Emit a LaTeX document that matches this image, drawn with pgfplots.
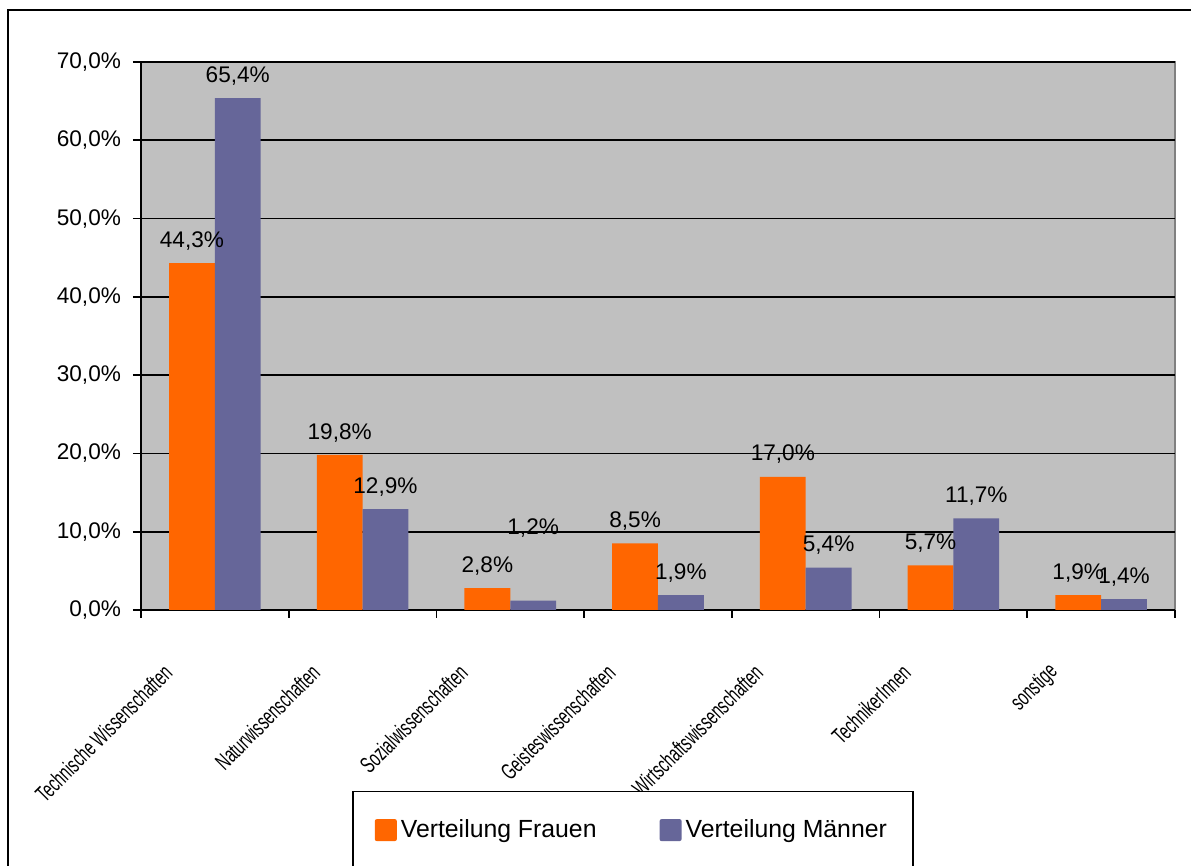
\documentclass[border=0pt]{standalone}
\usepackage{fontspec}
\setmainfont{Liberation Sans}
\usepackage{pgfplots}
\pgfplotsset{compat=1.18}
\usepackage{pgfplotstable}
\usepackage{graphicx}
\definecolor{cfrauen}{HTML}{FF6600}
\definecolor{cmaenner}{HTML}{666699}
\definecolor{plotbg}{HTML}{C0C0C0}

\pgfplotstableread{
x y dy
1 44.3 3
2 19.8 3
3 2.8 3
4 8.5 3
5 17.0 3
6 5.7 3
7 1.9 3
}\tabF
\pgfplotstableread{
x y dy
1 65.4 3
2 12.9 3
3 1.2 28
4 1.9 3
5 5.4 3
6 11.7 3
7 1.4 3
}\tabM

\newcommand{\xl}[1]{\scalebox{0.64}[1]{#1}}

\begin{document}
\begin{tikzpicture}
\path[use as bounding box] (0,0) rectangle (595.5pt,433pt);
\draw[line width=1pt] (3.8pt,-5pt) -- (3.8pt,427.8pt) -- (600pt,427.8pt);
\begin{axis}[
  at={(70.5pt,128pt)}, anchor=south west,
  scale only axis, width=517pt, height=274pt,
  ybar, bar width=0.31,
  xmin=0.5, xmax=7.5, ymin=0, ymax=70,
  axis background/.style={fill=plotbg, draw=gray, line width=0.8pt},
  axis x line*=bottom, axis y line*=left,
  axis line style={black, line width=0.8pt},
  tick align=outside,
  tick style={black, line width=0.8pt},
  major tick length=0pt, minor tick length=4pt,
  ytick={0,10,...,70},
  minor ytick={0,10,...,70},
  yticklabels={{0,0\%},{10,0\%},{20,0\%},{30,0\%},{40,0\%},{50,0\%},{60,0\%},{70,0\%}},
  yticklabel style={font=\fontsize{11.3}{13}\selectfont, xshift=-6.5pt},
  ymajorgrids, major grid style={black, line width=0.8pt},
  xtick={1,...,7},
  minor xtick={0.5,1.5,...,7.5},
  xticklabels={\xl{Technische Wissenschaften},\xl{Naturwissenschaften},\xl{Sozialwissenschaften},\xl{Geisteswissenschaften},\xl{Wirtschaftswissenschaften},\xl{TechnikerInnen},\xl{sonstige}},
  x tick label style={font=\fontsize{11.5}{13}\selectfont, xshift=-21pt, yshift=-27pt, rotate=45, anchor=east},
  /pgf/number format/assume math mode=true,
  visualization depends on={\thisrow{dy} \as \dy},
  nodes near coords={\pgfmathprintnumber[fixed,fixed zerofill,precision=1,use comma]{\pgfplotspointmeta}\%},
  nodes near coords style={font=\fontsize{11.3}{13}\selectfont, yshift=\dy pt, text=black},
  legend style={at={(axis description cs:0.2041,-0.330)}, anchor=north west,
    legend columns=2, draw=black, line width=0.8pt, fill=white,
    inner xsep=11pt, inner ysep=12pt,
    font=\fontsize{12.4}{14}\selectfont,
    nodes={inner xsep=2pt},
    /tikz/every even column/.append style={column sep=29.5pt}},
  legend cell align=left,
]
\addplot[fill=cfrauen, draw=none, bar shift=-0.155,
  legend image code/.code={\fill[cfrauen, rounded corners=1pt] (0pt,-5.5pt) rectangle (11pt,5.5pt);}]
  table[x=x, y=y] {\tabF};
\addlegendentry{Verteilung Frauen}
\addplot[fill=cmaenner, draw=none, bar shift=0.155,
  legend image code/.code={\fill[cmaenner, rounded corners=1pt] (0pt,-5.5pt) rectangle (11pt,5.5pt);}]
  table[x=x, y=y] {\tabM};
\addlegendentry{Verteilung Männer}
\end{axis}
\end{tikzpicture}
\end{document}
